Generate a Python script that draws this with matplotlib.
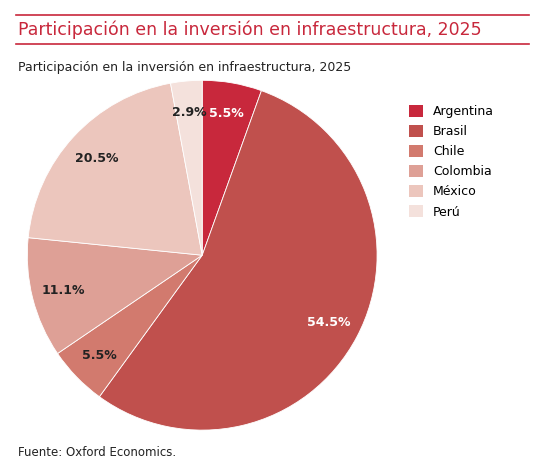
import matplotlib
matplotlib.use("Agg")
import matplotlib.pyplot as plt
from matplotlib.patches import Patch
from matplotlib.lines import Line2D
import numpy as np

categories = ["Argentina", "Brasil", "Chile", "Colombia", "México", "Perú"]
values = [5.5, 54.5, 5.5, 11.1, 20.5, 2.9]
labels = ["5.5%", "54.5%", "5.5%", "11.1%", "20.5%", "2.9%"]
colors = ["#c8283c", "#c0504d", "#d27a6e", "#dea096", "#ecc6bd", "#f4e1dc"]
label_colors = ["white", "white", "#222222", "#222222", "#222222", "#222222"]

fig = plt.figure(figsize=(5.45, 4.67), dpi=100)
red = "#c8283c"
fig.add_artist(Line2D([0.03, 0.97], [0.968, 0.968], color=red, lw=1.2))
fig.add_artist(Line2D([0.03, 0.97], [0.905, 0.905], color=red, lw=1.2))
fig.text(0.033, 0.936, "Participación en la inversión en infraestructura, 2025",
         color=red, fontsize=12.5, va="center", ha="left")
fig.text(0.033, 0.855, "Participación en la inversión en infraestructura, 2025",
         color="#222222", fontsize=9, va="center", ha="left")
fig.text(0.033, 0.03, "Fuente: Oxford Economics.", color="#222222", fontsize=8.5,
         va="center", ha="left")

ax = fig.add_axes([0.05, 0.079, 0.642, 0.749])
wedges, _ = ax.pie(values, colors=colors, startangle=90, counterclock=False,
                   wedgeprops=dict(edgecolor="white", linewidth=0.6))
total = sum(values)
ang = 90.0
for w, v, lab, c in zip(wedges, values, labels, label_colors):
    mid = np.deg2rad(ang - v / total * 360 / 2)
    ang -= v / total * 360
    d = 0.82
    ax.text(d * np.cos(mid), d * np.sin(mid), lab, ha="center", va="center",
            fontsize=9, fontweight="bold", color=c)
ax.set_xlim(-1, 1)
ax.set_ylim(-1, 1)
ax.set_aspect("equal")

handles = [Patch(facecolor=c, edgecolor="none") for c in colors]
fig.legend(handles, categories, loc="upper left", bbox_to_anchor=(0.73, 0.8),
           frameon=False, fontsize=9, handlelength=1.1, handleheight=1.1,
           labelspacing=0.55, handletextpad=0.8)

fig.savefig("out.png", dpi=100)
